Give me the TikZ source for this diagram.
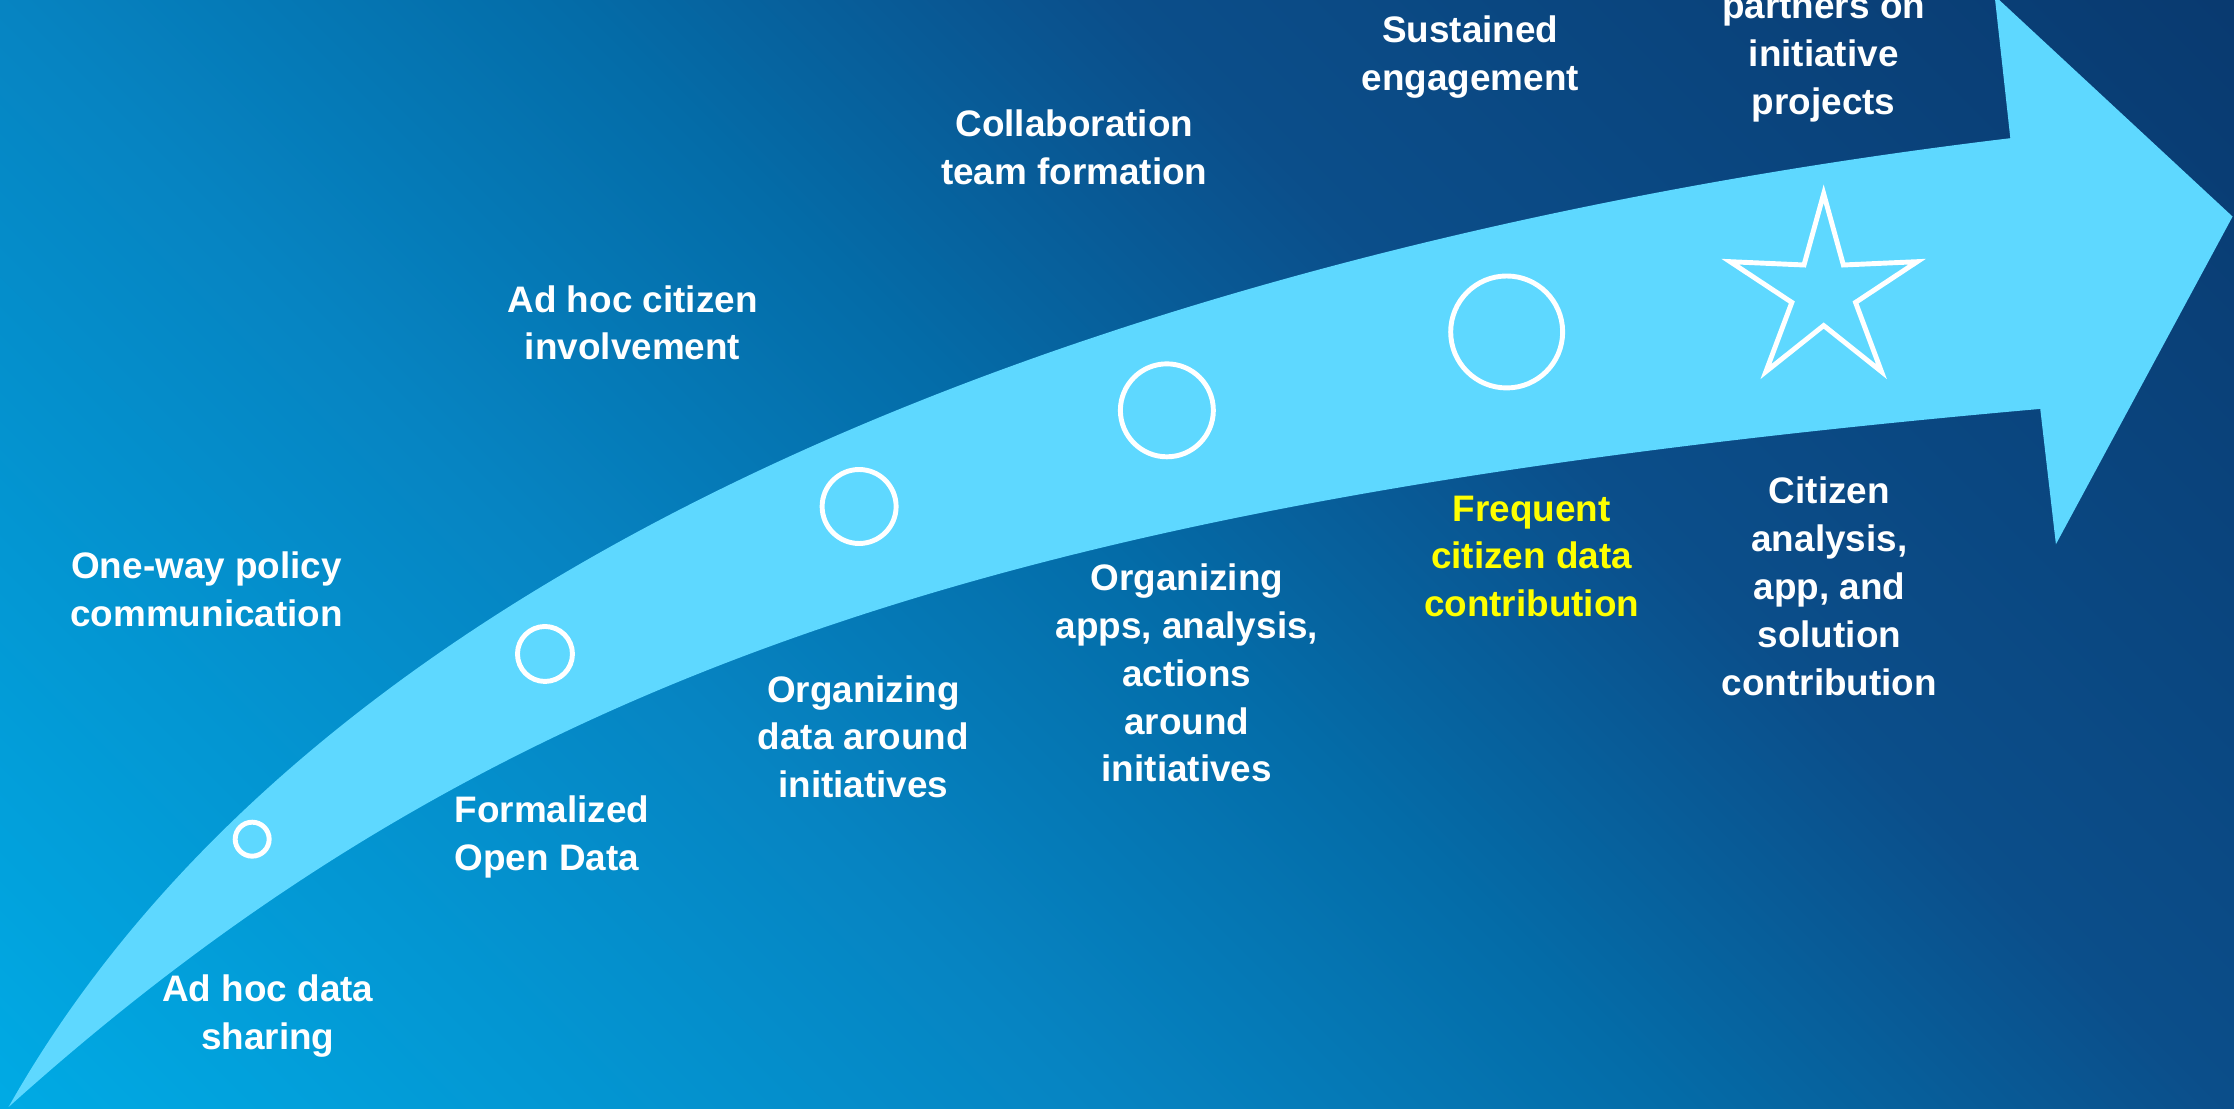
\documentclass[tikz,border=0pt]{standalone}
\usepackage{fontspec}
\setmainfont{Liberation Sans}
\definecolor{bgA}{RGB}{0,170,228}
\definecolor{bgB}{RGB}{6,132,194}
\definecolor{bgC}{RGB}{4,108,168}
\definecolor{bgD}{RGB}{11,78,138}
\definecolor{bgE}{RGB}{9,58,112}
\definecolor{arrowc}{RGB}{94,216,255}
\definecolor{hiyel}{RGB}{255,255,0}
\pgfdeclareverticalshading{bgsh}{100bp}{color(0bp)=(bgA); color(25.4bp)=(bgA); color(41.6bp)=(bgB); color(50bp)=(bgC); color(58.3bp)=(bgD); color(74.6bp)=(bgE); color(100bp)=(bgE)}
\tikzset{
  lbl/.style={text=white, font=\fontsize{10.5pt}{13.6pt}\selectfont\bfseries, align=center, inner sep=0pt},
  ring/.style={circle, draw=white, line width=1.4pt, inner sep=0pt},
}
\begin{document}
\begin{tikzpicture}[x=0.014247cm, y=-0.014247cm]
\useasboundingbox (0,0) rectangle (1568,778);
\begin{scope}
\clip (0,0) rectangle (1568,778);
\shade[shading=bgsh, shading angle=-45] (11.17cm,-5.542cm) +(-12cm,-12cm) rectangle +(12cm,12cm);
\fill[arrowc] (6,777) .. controls (255,336) and (911,157) .. (1411,97)
  -- (1400,-3) -- (1567,152) -- (1443,382) -- (1432,287)
  .. controls (732,349) and (356,462) .. (6,777) -- cycle;
\end{scope}
\node[ring, minimum size=0.34cm] (c1) at (177,589) {};
\node[ring, minimum size=0.55cm] (c2) at (382.5,459) {};
\node[ring, minimum size=0.74cm] (c3) at (603,355.5) {};
\node[ring, minimum size=0.93cm] (c4) at (819,288) {};
\node[ring, minimum size=1.12cm] (c5) at (1057.5,233) {};
\draw[white, line width=1.4pt, line join=miter, shift={(1280,205)}] (-90:69) -- (-54:23.5) -- (-18:69) -- (18:23.5) -- (54:69) -- (90:23.5) -- (126:69) -- (162:23.5) -- (198:69) -- (234:23.5) -- cycle;
\node[lbl] (t1) at (145,413.5) {One-way policy\\communication};
\node[lbl] (t2) at (444,226.5) {Ad hoc citizen\\involvement};
\node[lbl] (t3) at (754,103.5) {Collaboration\\team formation};
\node[lbl] (t4) at (1032,40) {Sustained\\engagement};
\node[lbl] (t5) at (1280,41) {partners on\\initiative\\projects};
\node[lbl] (b1) at (188,713) {Ad hoc data\\sharing};
\node[lbl, align=left] (b2) at (387.5,587.5) {Formalized\\Open Data};
\node[lbl] (b3) at (606,517) {Organizing\\data around\\initiatives};
\node[lbl] (b4) at (833,472.5) {Organizing\\apps, analysis,\\actions\\around\\initiatives};
\node[lbl, text=hiyel] (b5) at (1075,390.5) {Frequent\\citizen data\\contribution};
\node[lbl] (b6) at (1284,411.5) {Citizen\\analysis,\\app, and\\solution\\contribution};
\end{tikzpicture}
\end{document}
